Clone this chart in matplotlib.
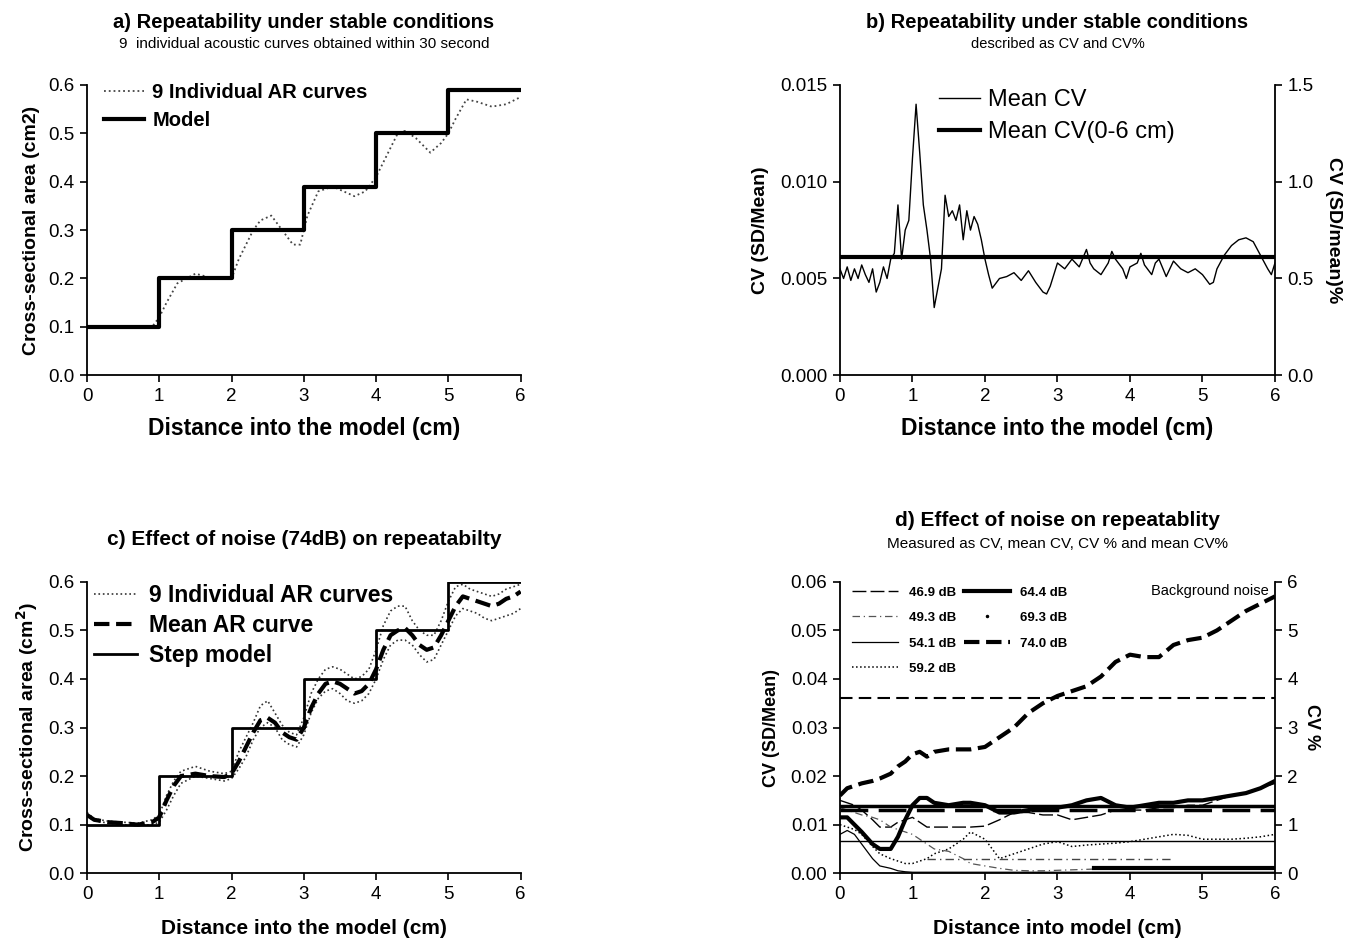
import matplotlib
matplotlib.use("Agg")
import matplotlib.pyplot as plt
import numpy as np

plt.rcParams['font.family'] = ['Liberation Sans', 'DejaVu Sans']

# ---- panel a data ----
step_x = [0, 1, 2, 3, 4, 5, 6]
model_a = [0.1, 0.2, 0.3, 0.39, 0.5, 0.59, 0.59]
ar_a_x = [0, 0.3, 0.6, 0.9, 1.0, 1.1, 1.25, 1.5, 1.75, 2.0, 2.1, 2.3, 2.4, 2.55, 2.7,
          2.85, 2.95, 3.05, 3.2, 3.4, 3.7, 3.85, 4.0, 4.1, 4.3, 4.4, 4.55, 4.75, 4.9,
          5.0, 5.1, 5.25, 5.4, 5.6, 5.8, 6.0]
ar_a_y = [0.1, 0.102, 0.1, 0.1, 0.12, 0.15, 0.19, 0.21, 0.2, 0.2, 0.24, 0.3, 0.32, 0.33,
          0.3, 0.27, 0.27, 0.33, 0.38, 0.39, 0.37, 0.38, 0.41, 0.44, 0.5, 0.505, 0.49,
          0.46, 0.48, 0.5, 0.53, 0.57, 0.565, 0.555, 0.56, 0.575]

# ---- panel b data ----
cv_x = [0, 0.05, 0.1, 0.15, 0.2, 0.25, 0.3, 0.35, 0.4, 0.45, 0.5, 0.55, 0.6, 0.65, 0.7,
        0.75, 0.8, 0.85, 0.9, 0.95, 1.0, 1.05, 1.1, 1.15, 1.2, 1.25, 1.3, 1.35, 1.4,
        1.45, 1.5, 1.55, 1.6, 1.65, 1.7, 1.75, 1.8, 1.85, 1.9, 1.95, 2.0, 2.05, 2.1,
        2.2, 2.3, 2.4, 2.5, 2.6, 2.7, 2.8, 2.85, 2.9, 3.0, 3.1, 3.2, 3.3, 3.4, 3.45,
        3.5, 3.6, 3.7, 3.75, 3.8, 3.9, 3.95, 4.0, 4.1, 4.15, 4.2, 4.3, 4.35, 4.4, 4.5,
        4.6, 4.7, 4.8, 4.9, 5.0, 5.1, 5.15, 5.2, 5.3, 5.4, 5.5, 5.6, 5.7, 5.8, 5.9,
        5.95, 6.0]
cv_y = [0.0055, 0.0050, 0.0056, 0.0049, 0.0055, 0.0050, 0.0057, 0.0052, 0.0048,
        0.0055, 0.0043, 0.0048, 0.0056, 0.0050, 0.0060, 0.0063, 0.0088, 0.0060,
        0.0075, 0.0080, 0.0112, 0.0140, 0.0115, 0.0088, 0.0075, 0.0060, 0.0035,
        0.0045, 0.0055, 0.0093, 0.0082, 0.0085, 0.0080, 0.0088, 0.0070, 0.0085,
        0.0075, 0.0082, 0.0078, 0.0070, 0.0060, 0.0052, 0.0045, 0.0050, 0.0051,
        0.0053, 0.0049, 0.0054, 0.0048, 0.0043, 0.0042, 0.0046, 0.0058, 0.0055,
        0.0060, 0.0056, 0.0065, 0.0058, 0.0055, 0.0052, 0.0058, 0.0064, 0.0060,
        0.0055, 0.0050, 0.0056, 0.0058, 0.0063, 0.0057, 0.0052, 0.0058, 0.0060,
        0.0051, 0.0059, 0.0055, 0.0053, 0.0055, 0.0052, 0.0047, 0.0048, 0.0055,
        0.0062, 0.0067, 0.0070, 0.0071, 0.0069, 0.0062, 0.0055, 0.0052, 0.0058]
mean_cv_b = 0.0061

# ---- panel c data ----
model_c = [0.1, 0.2, 0.3, 0.4, 0.5, 0.6, 0.6]
ar_c_x = [0, 0.1, 0.3, 0.5, 0.7, 0.9, 1.0, 1.1, 1.2, 1.3, 1.5, 1.7, 1.9, 2.0, 2.1, 2.2,
          2.3, 2.4, 2.5, 2.6, 2.7, 2.8, 2.9, 3.0, 3.1, 3.2, 3.3, 3.4, 3.5, 3.6, 3.7,
          3.8, 3.9, 4.0, 4.1, 4.2, 4.3, 4.4, 4.5, 4.6, 4.7, 4.8, 4.9, 5.0, 5.1, 5.2,
          5.3, 5.4, 5.5, 5.6, 5.7, 5.8, 5.9, 6.0]
mean_c = [0.12, 0.11, 0.105, 0.103, 0.1, 0.105, 0.115, 0.15, 0.18, 0.2, 0.205, 0.2,
          0.198, 0.205, 0.23, 0.26, 0.29, 0.315, 0.32, 0.31, 0.29, 0.28, 0.275, 0.3,
          0.34, 0.37, 0.39, 0.395, 0.39, 0.38, 0.37, 0.375, 0.39, 0.42, 0.46, 0.49,
          0.5, 0.505, 0.49, 0.47, 0.46, 0.465, 0.49, 0.52, 0.55, 0.57, 0.565, 0.56,
          0.555, 0.55, 0.555, 0.565, 0.57, 0.58]
upper_c = [0.125, 0.112, 0.107, 0.105, 0.103, 0.11, 0.12, 0.16, 0.19, 0.21, 0.22, 0.21,
           0.205, 0.21, 0.25, 0.28, 0.31, 0.345, 0.355, 0.33, 0.305, 0.29, 0.285, 0.32,
           0.37, 0.4, 0.42, 0.425, 0.42, 0.41, 0.4, 0.405, 0.42, 0.46, 0.51, 0.54,
           0.55, 0.55, 0.52, 0.5, 0.49, 0.49, 0.52, 0.56, 0.59, 0.595, 0.585, 0.58,
           0.575, 0.57, 0.575, 0.585, 0.59, 0.595]
lower_c = [0.118, 0.108, 0.103, 0.1, 0.098, 0.1, 0.105, 0.13, 0.16, 0.185, 0.2, 0.195,
           0.19, 0.195, 0.215, 0.24, 0.275, 0.3, 0.31, 0.3, 0.275, 0.265, 0.26, 0.285,
           0.33, 0.36, 0.375, 0.38, 0.37, 0.355, 0.35, 0.355, 0.37, 0.4, 0.44, 0.47,
           0.48, 0.48, 0.47, 0.45, 0.435, 0.44, 0.47, 0.5, 0.53, 0.545, 0.54, 0.535,
           0.525, 0.52, 0.525, 0.53, 0.535, 0.545]

# ---- panel d data ----
d_x = [0, 0.1, 0.2, 0.3, 0.45, 0.55, 0.7, 0.8, 0.9, 1.0, 1.1, 1.2, 1.3, 1.5, 1.7, 1.8,
       2.0, 2.2, 2.4, 2.6, 2.8, 3.0, 3.2, 3.4, 3.6, 3.8, 4.0, 4.2, 4.4, 4.6, 4.8, 5.0,
       5.2, 5.4, 5.6, 5.8, 6.0]
db_740 = [0.016, 0.0175, 0.018, 0.0185, 0.019, 0.0195, 0.0205, 0.022, 0.023, 0.0245,
          0.025, 0.024, 0.025, 0.0255, 0.0255, 0.0255, 0.026, 0.028, 0.03, 0.033, 0.035,
          0.0365, 0.0375, 0.0385, 0.0405, 0.0435, 0.045, 0.0445, 0.0445, 0.047, 0.048,
          0.0485, 0.05, 0.052, 0.054, 0.0555, 0.057]
db_644 = [0.0115, 0.0115, 0.01, 0.0085, 0.006, 0.005, 0.005, 0.0075, 0.011, 0.014,
          0.0155, 0.0155, 0.0145, 0.014, 0.0145, 0.0145, 0.014, 0.0125, 0.0125, 0.013,
          0.0135, 0.0135, 0.014, 0.015, 0.0155, 0.014, 0.0135, 0.014, 0.0145, 0.0145,
          0.015, 0.015, 0.0155, 0.016, 0.0165, 0.0175, 0.019]
db_469 = [0.015, 0.0145, 0.014, 0.013, 0.011, 0.0095, 0.0095, 0.0105, 0.011, 0.0115,
          0.0105, 0.0095, 0.0095, 0.0095, 0.0095, 0.0095, 0.0097, 0.011, 0.0125, 0.0125,
          0.012, 0.012, 0.011, 0.0115, 0.012, 0.013, 0.013, 0.013, 0.0135, 0.0135,
          0.014, 0.014, 0.015, 0.016, 0.0165, 0.0175, 0.0185]
db_592 = [0.01, 0.0095, 0.009, 0.008, 0.0055, 0.004, 0.003, 0.0025, 0.002, 0.002,
          0.0025, 0.003, 0.004, 0.005, 0.007, 0.0085, 0.007, 0.003, 0.004, 0.005,
          0.006, 0.0065, 0.0055, 0.0058, 0.006, 0.0062, 0.0065, 0.007, 0.0075, 0.008,
          0.0078, 0.007, 0.007, 0.007, 0.0072, 0.0075, 0.008]
db_541 = [0.008, 0.0088, 0.008, 0.006, 0.003, 0.0015, 0.001, 0.0005, 0.0003, 0.0002,
          0.0002, 0.0002, 0.0002, 0.0002, 0.0002, 0.0002, 0.0002, 0.0002, 0.0002,
          0.0002, 0.0002, 0.0002, 0.0002, 0.0002, 0.0002, 0.0002, 0.0002, 0.0002,
          0.0002, 0.0002, 0.0002, 0.0002, 0.0002, 0.0002, 0.0002, 0.0002, 0.0002]
db_493 = [0.0135, 0.013, 0.0125, 0.012, 0.0115, 0.011, 0.0095, 0.009, 0.0085, 0.008,
          0.007, 0.006, 0.005, 0.0045, 0.003, 0.002, 0.0015, 0.001, 0.0006, 0.0005,
          0.0005, 0.0006, 0.0007, 0.0008, 0.0009, 0.001, 0.0011, 0.0011, 0.0011,
          0.0012, 0.0012, 0.0012, 0.0012, 0.0011, 0.0011, 0.0012, 0.0012]
mean_740 = 0.036
mean_644 = 0.0138
mean_469 = 0.013
mean_592 = 0.0066
mean_493 = 0.003
mean_541 = 0.001

fig = plt.figure(figsize=(13.68, 9.43), dpi=100)

def style(ax, right=False):
    ax.spines['top'].set_visible(False)
    if not right:
        ax.spines['right'].set_visible(False)
    ax.tick_params(direction='out', length=5, width=1.2, labelsize=13.5, pad=4)
    for s in ax.spines.values():
        s.set_linewidth(1.3)

def cv_ticks(v, pos):
    return '%.3f' % v

# ---------- a ----------
ax = fig.add_axes([0.0636, 0.602, 0.317, 0.308])
ax.plot(ar_a_x, ar_a_y, ':', color='#444', lw=1.3, label='9 Individual AR curves')
ax.step(step_x, model_a, where='post', color='black', lw=3, label='Model')
ax.set_xlim(0, 6)
ax.set_ylim(0, 0.6)
ax.set_xticks(range(7))
ax.set_yticks([0, 0.1, 0.2, 0.3, 0.4, 0.5, 0.6])
ax.set_yticklabels(['0.0', '0.1', '0.2', '0.3', '0.4', '0.5', '0.6'])
style(ax)
ax.set_xlabel('Distance into the model (cm)', fontsize=16.5, fontweight='bold', labelpad=9)
ax.set_ylabel('Cross-sectional area (cm2)', fontsize=14, fontweight='bold', labelpad=6)
ax.legend(loc='upper left', bbox_to_anchor=(0.039, 1.005), frameon=False,
          borderpad=0, borderaxespad=0,
          prop={'size': 14.5, 'weight': 'bold'}, handlelength=2.0, handletextpad=0.4,
          labelspacing=0.45)
ax.text(0.5, 1.197, 'a) Repeatability under stable conditions', transform=ax.transAxes,
        ha='center', fontsize=14.5, fontweight='bold')
ax.text(0.5, 1.128, '9  individual acoustic curves obtained within 30 second',
        transform=ax.transAxes, ha='center', fontsize=11)

# ---------- b ----------
ax = fig.add_axes([0.614, 0.602, 0.318, 0.308])
ax.plot(cv_x, cv_y, color='black', lw=1, label='Mean CV')
ax.axhline(mean_cv_b, color='black', lw=3, label='Mean CV(0-6 cm)')
ax.set_xlim(0, 6)
ax.set_ylim(0, 0.015)
ax.set_xticks(range(7))
ax.set_yticks([0, 0.005, 0.010, 0.015])
ax.yaxis.set_major_formatter(plt.FuncFormatter(cv_ticks))
style(ax)
ax.set_xlabel('Distance into the model (cm)', fontsize=16.5, fontweight='bold', labelpad=9)
ax.set_ylabel('CV (SD/Mean)', fontsize=14, fontweight='bold', labelpad=8)
ax.legend(loc='upper left', bbox_to_anchor=(0.228, 0.985), frameon=False,
          borderpad=0, borderaxespad=0,
          prop={'size': 17}, handlelength=1.75, handletextpad=0.3, labelspacing=0.42)
ax.text(0.5, 1.197, 'b) Repeatability under stable conditions', transform=ax.transAxes,
        ha='center', fontsize=14.5, fontweight='bold')
ax.text(0.5, 1.128, 'described as CV and CV%', transform=ax.transAxes,
        ha='center', fontsize=10.5)
ax2 = ax.twinx()
ax2.set_ylim(0, 1.5)
ax2.set_yticks([0, 0.5, 1.0, 1.5])
ax2.set_yticklabels(['0.0', '0.5', '1.0', '1.5'])
style(ax2, right=True)
ax2.spines['left'].set_visible(False)
ax2.spines['bottom'].set_visible(False)
ax2.set_ylabel('CV (SD/mean)%', fontsize=14, fontweight='bold', rotation=270, labelpad=20)

# ---------- c ----------
ax = fig.add_axes([0.0636, 0.074, 0.317, 0.309])
ax.plot(ar_c_x, upper_c, ':', color='#333', lw=1.2, label='9 Individual AR curves')
ax.plot(ar_c_x, lower_c, ':', color='#333', lw=1.2)
ax.plot(ar_c_x, mean_c, '--', color='black', lw=3, label='Mean AR curve')
ax.step(step_x, model_c, where='post', color='black', lw=2, label='Step model')
ax.set_xlim(0, 6)
ax.set_ylim(0, 0.6)
ax.set_xticks(range(7))
ax.set_yticks([0, 0.1, 0.2, 0.3, 0.4, 0.5, 0.6])
ax.set_yticklabels(['0.0', '0.1', '0.2', '0.3', '0.4', '0.5', '0.6'])
style(ax)
ax.set_xlabel('Distance into the model (cm)', fontsize=15, fontweight='bold', labelpad=12)
ax.set_ylabel('Cross-sectional area (cm$^\\mathbf{2}$)', fontsize=14, fontweight='bold',
              labelpad=6)
ax.legend(loc='upper left', bbox_to_anchor=(0.016, 0.993), frameon=False,
          borderpad=0, borderaxespad=0,
          prop={'size': 16.5, 'weight': 'bold'}, handlelength=1.9, handletextpad=0.5,
          labelspacing=0.3)
ax.text(0.5, 1.125, 'c) Effect of noise (74dB) on repeatabilty', transform=ax.transAxes,
        ha='center', fontsize=15, fontweight='bold')

# ---------- d ----------
ax = fig.add_axes([0.614, 0.074, 0.318, 0.309])
ax.plot(d_x, db_469, color='black', lw=1, dashes=(10, 3), label='46.9 dB')
ax.plot(d_x, db_493, color='#555', lw=0.9, dashes=(6, 3, 1, 3), label='49.3 dB')
ax.plot(d_x, db_541, color='black', lw=0.9, label='54.1 dB')
ax.plot(d_x, db_592, ':', color='black', lw=1.1, label='59.2 dB')
ax.plot(d_x, db_644, color='black', lw=3, label='64.4 dB')
ax.plot([], [], '.', color='black', ms=3, label='69.3 dB')
ax.plot(d_x, db_740, '--', color='black', lw=3, label='74.0 dB')
ax.axhline(mean_740, color='black', lw=1.5, dashes=(6, 3))
ax.axhline(mean_644, color='black', lw=2.5)
ax.axhline(mean_469, color='black', lw=2.5, dashes=(8, 3))
ax.axhline(mean_592, color='black', lw=1)
ax.plot([1.2, 4.6], [mean_493, mean_493], color='#444', lw=1, dashes=(6, 3, 1, 3))
ax.plot([3.5, 6], [mean_541, mean_541], color='black', lw=3)
ax.set_xlim(0, 6)
ax.set_ylim(0, 0.06)
ax.set_xticks(range(7))
ax.set_yticks([0, 0.01, 0.02, 0.03, 0.04, 0.05, 0.06])
ax.set_yticklabels(['0.00', '0.01', '0.02', '0.03', '0.04', '0.05', '0.06'])
style(ax)
ax.set_xlabel('Distance into model (cm)', fontsize=15, fontweight='bold', labelpad=12)
ax.set_ylabel('CV (SD/Mean)', fontsize=13, fontweight='bold', labelpad=8)
ax.legend(loc='upper left', bbox_to_anchor=(0.0, 1.025), frameon=False, ncol=2,
          prop={'size': 9.5, 'weight': 'bold'}, handlelength=3.5, labelspacing=1.0,
          columnspacing=0.6)
ax.text(0.985, 0.955, 'Background noise', transform=ax.transAxes, ha='right',
        fontsize=10.5)
ax.text(0.5, 1.19, 'd) Effect of noise on repeatablity', transform=ax.transAxes,
        ha='center', fontsize=15, fontweight='bold')
ax.text(0.5, 1.115, 'Measured as CV, mean CV, CV % and mean CV%', transform=ax.transAxes,
        ha='center', fontsize=11)
ax2 = ax.twinx()
ax2.set_ylim(0, 6)
ax2.set_yticks(range(7))
style(ax2, right=True)
ax2.spines['left'].set_visible(False)
ax2.spines['bottom'].set_visible(False)
ax2.set_ylabel('CV %', fontsize=13, fontweight='bold', rotation=270, labelpad=16)

fig.savefig('out.png', dpi=100)
